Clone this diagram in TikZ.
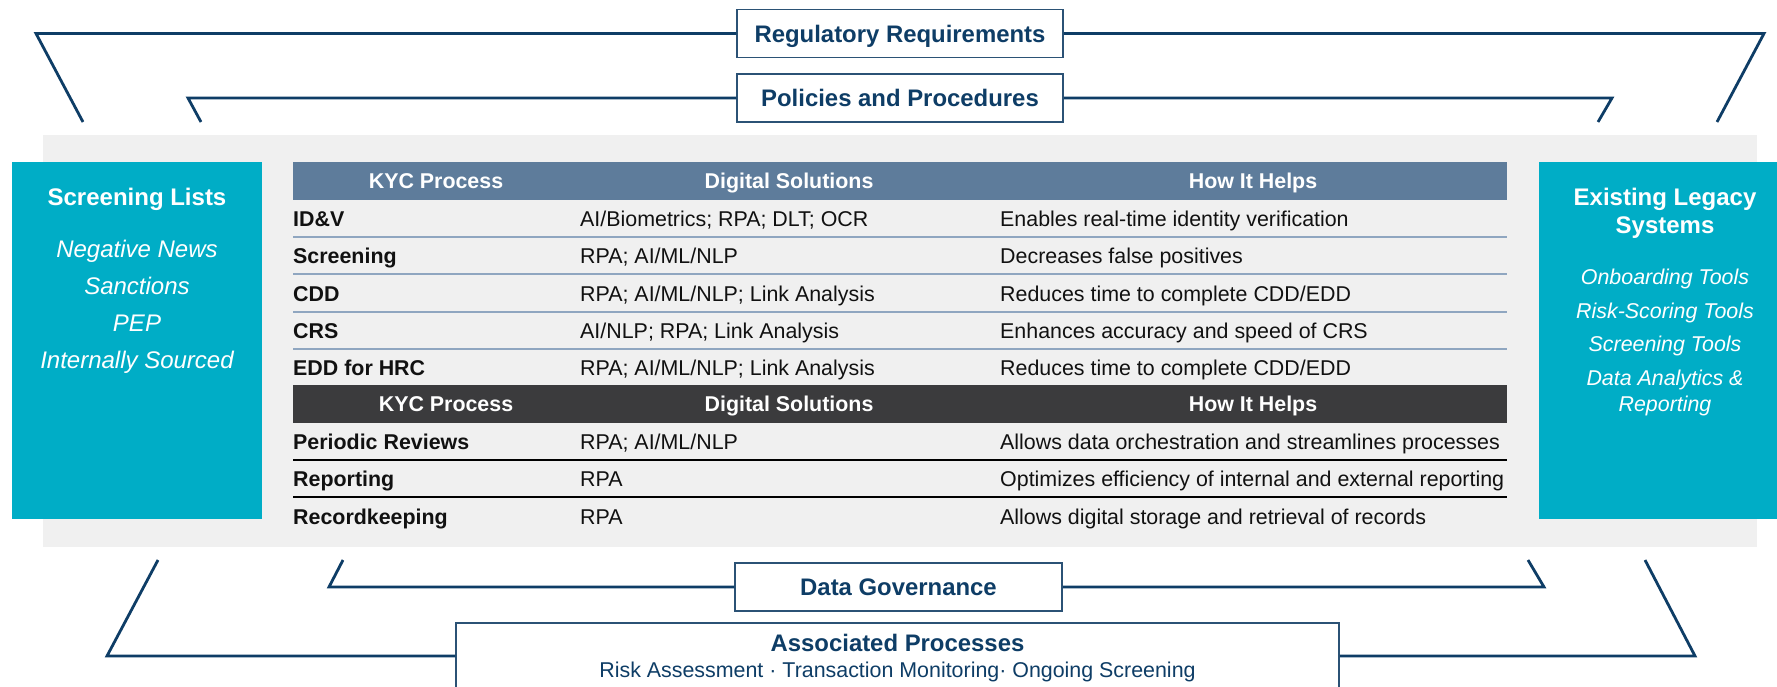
\documentclass[tikz,border=0pt]{standalone}
\usepackage{fontspec}
\setmainfont{Liberation Sans}
\definecolor{navy}{HTML}{0E3D66}
\definecolor{boxline}{HTML}{2B5275}
\definecolor{bggray}{HTML}{F0F0F0}
\definecolor{teal}{HTML}{00ADC6}
\definecolor{hdrblue}{HTML}{5E7C9B}
\definecolor{hdrdark}{HTML}{3B3B3D}
\definecolor{sepblue}{HTML}{8FA6C0}
\definecolor{bodytxt}{HTML}{111111}
\newcommand\kycbody{\fontsize{21.4}{25}\selectfont}
\newcommand\kyctitle{\fontsize{23.9}{28}\selectfont\bfseries}
\newcommand\kycside{\fontsize{24}{28}\selectfont}
\begin{document}
\begin{tikzpicture}[x=1pt,y=-1pt,
  conn/.style={draw=navy,line width=2.8pt},
  tbox/.style={draw=boxline,line width=1.5pt,fill=white,inner sep=0,text=navy,font=\kyctitle,text height=17pt,text depth=0pt},
  tealbox/.style={fill=teal,inner sep=0},
  ctr/.style={inner sep=0,anchor=base},
  lft/.style={inner sep=0,anchor=base west,text=bodytxt,font=\kycbody},
  lftb/.style={lft,font=\kycbody\bfseries},
  hdr/.style={inner sep=0,anchor=base,text=white,font=\kycbody\bfseries},
  sepA/.style={draw=sepblue,line width=2pt},
  sepB/.style={draw=black,line width=1.8pt}]
\useasboundingbox (0,0) rectangle (1777,686);
\clip (0,0) rectangle (1777,686);
\fill[white] (0,0) rectangle (1777,686);
\fill[bggray] (43,135) rectangle (1757,547);

% ---------- top brackets ----------
\node[tbox,minimum width=326pt,minimum height=48pt] (reg) at (900,33.5) {Regulatory Requirements};
\node[tbox,minimum width=326pt,minimum height=48pt] (pol) at (900,98) {Policies and Procedures};
\coordinate (regL1) at (36,33.5);
\coordinate (regL2) at (83,122);
\coordinate (regR1) at (1764,33.5);
\coordinate (regR2) at (1717,122);
\coordinate (polL1) at (188,98);
\coordinate (polL2) at (201,122);
\coordinate (polR1) at (1612,98);
\coordinate (polR2) at (1598,122);
\draw[conn] (reg.west) -- (regL1) -- (regL2);
\draw[conn] (reg.east) -- (regR1) -- (regR2);
\draw[conn] (pol.west) -- (polL1) -- (polL2);
\draw[conn] (pol.east) -- (polR1) -- (polR2);

% ---------- bottom brackets ----------
\node[tbox,minimum width=327pt,minimum height=48pt] (dg) at (898.5,587) {Data Governance};
\node[draw=boxline,line width=1.5pt,fill=white,inner sep=0,minimum width=883pt,minimum height=66pt] (assoc) at (897.5,656) {};
\node[ctr,text=navy,font=\kyctitle] (assocT) at (897.5,651) {Associated Processes};
\node[ctr,text=navy,font=\kycbody] (assocS) at (897.5,677) {Risk Assessment \textperiodcentered{} Transaction Monitoring\textperiodcentered{} Ongoing Screening};
\coordinate (dgL1) at (329,587);
\coordinate (dgL2) at (343,560);
\coordinate (dgR1) at (1544,587);
\coordinate (dgR2) at (1528,560);
\coordinate (asL1) at (107,656);
\coordinate (asL2) at (158,560);
\coordinate (asR1) at (1695,656);
\coordinate (asR2) at (1645,560);
\draw[conn] (dg.west) -- (dgL1) -- (dgL2);
\draw[conn] (dg.east) -- (dgR1) -- (dgR2);
\draw[conn] (assoc.west) -- (asL1) -- (asL2);
\draw[conn] (assoc.east) -- (asR1) -- (asR2);

% ---------- side boxes ----------
\node[tealbox,minimum width=250pt,minimum height=357pt] (scr) at (137,340.5) {};
\node[ctr,text=white,font=\kycside\bfseries] (scrT) at (137,205) {Screening Lists};
\node[ctr,text=white,font=\kycside\itshape] (scr1) at (137,257) {Negative News};
\node[ctr,text=white,font=\kycside\itshape] (scr2) at (137,294.5) {Sanctions};
\node[ctr,text=white,font=\kycside\itshape] (scr3) at (137,331.5) {PEP};
\node[ctr,text=white,font=\kycside\itshape] (scr4) at (137,368.5) {Internally Sourced};

\node[tealbox,minimum width=252pt,minimum height=357pt] (leg) at (1665,340.5) {};
\node[ctr,text=white,font=\kycside\bfseries] (legT1) at (1665,205) {Existing Legacy};
\node[ctr,text=white,font=\kycside\bfseries] (legT2) at (1665,233) {Systems};
\node[ctr,text=white,font=\kycbody\itshape] (leg1) at (1665,284) {Onboarding Tools};
\node[ctr,text=white,font=\kycbody\itshape] (leg2) at (1665,318) {Risk-Scoring Tools};
\node[ctr,text=white,font=\kycbody\itshape] (leg3) at (1665,351) {Screening Tools};
\node[ctr,text=white,font=\kycbody\itshape] (leg4) at (1665,385) {Data Analytics \&};
\node[ctr,text=white,font=\kycbody\itshape] (leg5) at (1665,411) {Reporting};

% ---------- table ----------
\fill[hdrblue] (293,162) rectangle (1507,200);
\node[hdr] (h1a) at (436,188.5) {KYC Process};
\node[hdr] (h1b) at (789,188.5) {Digital Solutions};
\node[hdr] (h1c) at (1253,188.5) {How It Helps};

\node[lftb] (r1a) at (293,226.5) {ID\&V};
\node[lft]  (r1b) at (580,226.5) {AI/Biometrics; RPA; DLT; OCR};
\node[lft]  (r1c) at (1000,226.5) {Enables real-time identity verification};
\draw[sepA] (293,237) -- (1507,237);
\node[lftb] (r2a) at (293,263.75) {Screening};
\node[lft]  (r2b) at (580,263.75) {RPA; AI/ML/NLP};
\node[lft]  (r2c) at (1000,263.75) {Decreases false positives};
\draw[sepA] (293,274) -- (1507,274);
\node[lftb] (r3a) at (293,301) {CDD};
\node[lft]  (r3b) at (580,301) {RPA; AI/ML/NLP; Link Analysis};
\node[lft]  (r3c) at (1000,301) {Reduces time to complete CDD/EDD};
\draw[sepA] (293,311.5) -- (1507,311.5);
\node[lftb] (r4a) at (293,338.25) {CRS};
\node[lft]  (r4b) at (580,338.25) {AI/NLP; RPA; Link Analysis};
\node[lft]  (r4c) at (1000,338.25) {Enhances accuracy and speed of CRS};
\draw[sepA] (293,349) -- (1507,349);
\node[lftb] (r5a) at (293,375.5) {EDD for HRC};
\node[lft]  (r5b) at (580,375.5) {RPA; AI/ML/NLP; Link Analysis};
\node[lft]  (r5c) at (1000,375.5) {Reduces time to complete CDD/EDD};

\fill[hdrdark] (293,385) rectangle (1507,423);
\node[hdr] (h2a) at (446,411.5) {KYC Process};
\node[hdr] (h2b) at (789,411.5) {Digital Solutions};
\node[hdr] (h2c) at (1253,411.5) {How It Helps};

\node[lftb] (r6a) at (293,449.5) {Periodic Reviews};
\node[lft]  (r6b) at (580,449.5) {RPA; AI/ML/NLP};
\node[lft]  (r6c) at (1000,449.5) {Allows data orchestration and streamlines processes};
\draw[sepB] (293,460) -- (1507,460);
\node[lftb] (r7a) at (293,486.75) {Reporting};
\node[lft]  (r7b) at (580,486.75) {RPA};
\node[lft]  (r7c) at (1000,486.75) {Optimizes efficiency of internal and external reporting};
\draw[sepB] (293,497) -- (1507,497);
\node[lftb] (r8a) at (293,524) {Recordkeeping};
\node[lft]  (r8b) at (580,524) {RPA};
\node[lft]  (r8c) at (1000,524) {Allows digital storage and retrieval of records};
\end{tikzpicture}
\end{document}
